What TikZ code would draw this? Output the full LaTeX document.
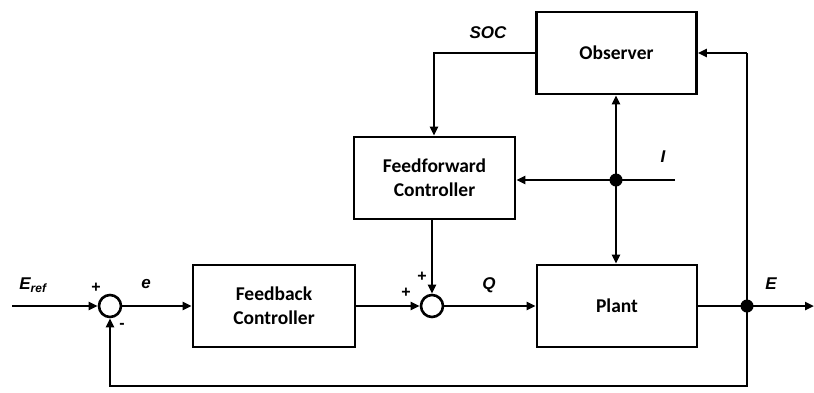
\documentclass[tikz,border=0pt]{standalone}
\usepackage{fontspec}
\setmainfont{Carlito}
\newfontfamily\labelfont{Liberation Sans}
\usetikzlibrary{arrows.meta}
\begin{document}
\begin{tikzpicture}[x=1pt,y=-1pt,
  line width=2.6pt,
  >={Triangle[length=9pt,width=8pt]},
  block/.style={draw,line width=2.6pt,minimum width=160pt,minimum height=82pt,
    align=center,font=\fontsize{19.5}{24}\selectfont\bfseries,inner sep=0pt},
  sumnode/.style={draw,circle,minimum size=22pt,inner sep=0pt,line width=2.6pt},
  dotnode/.style={circle,fill,minimum size=13pt,inner sep=0pt},
  lbl/.style={font=\labelfont\fontsize{17}{20}\selectfont\bfseries\itshape,inner sep=0pt},
  sgn/.style={font=\labelfont\fontsize{16}{18}\selectfont\bfseries,inner sep=0pt}]
\useasboundingbox (0,0) rectangle (814,392);

% blocks
\node[block] (obs) at (616.5,53) {Observer};
\node[block,minimum width=161pt] (ff) at (434.5,178) {Feedforward\\Controller};
\node[block,minimum width=162pt] (fb) at (274,306) {Feedback\\Controller};
\node[block] (plant) at (617,306) {Plant};

% summing junctions
\node[sumnode] (s1) at (110,306) {};
\node[sumnode] (s2) at (432,306) {};

% branch points
\node[dotnode] (jI) at (616,180) {};
\node[dotnode] (jE) at (747,306) {};

% free ends
\coordinate (in) at (12,306);
\coordinate (out) at (814,306);
\coordinate (Iend) at (675,180);
\coordinate (socc) at (434,53);
\coordinate (obsr) at (747,53);
\coordinate (botR) at (747,386);
\coordinate (botL) at (110,386);

% main path
\draw[->] (in) -- (s1.west);
\draw[->] (s1.east) -- (fb.west);
\draw[->] (fb.east) -- (s2.west);
\draw[->] (s2.east) -- (plant.west);
\draw[->] (plant.east) -- (out);

% feedback loop
\draw[->] (obsr) -- (jE.center) -- (botR) -- (botL) -- (s1.south);
\draw[->] (obsr) -- (obs.east |- obsr);

% observer to feedforward
\draw[->] (obs.west |- socc) -- (socc) -- (ff.north -| socc);

% current signal I
\draw[->] (Iend) -- (ff.east |- Iend);
\draw[->] (jI.center) -- (obs.south -| jI);
\draw[->] (jI.center) -- (plant.north -| jI);

% feedforward to sum
\draw[->] (ff.south -| s2) -- (s2.north);

% labels
\node[lbl] at (33,285) {E\textsubscript{\fontsize{12}{14}\selectfont ref}};
\node[lbl] at (146,284) {e};
\node[lbl] at (489,285) {Q};
\node[lbl] at (771,284) {E};
\node[lbl] at (663,157) {I};
\node[lbl] at (488,33) {SOC};
\node[sgn] at (96,288) {+};
\node[sgn] at (122,326) {-};
\node[sgn] at (406,293) {+};
\node[sgn] at (422,277) {+};
\end{tikzpicture}
\end{document}
